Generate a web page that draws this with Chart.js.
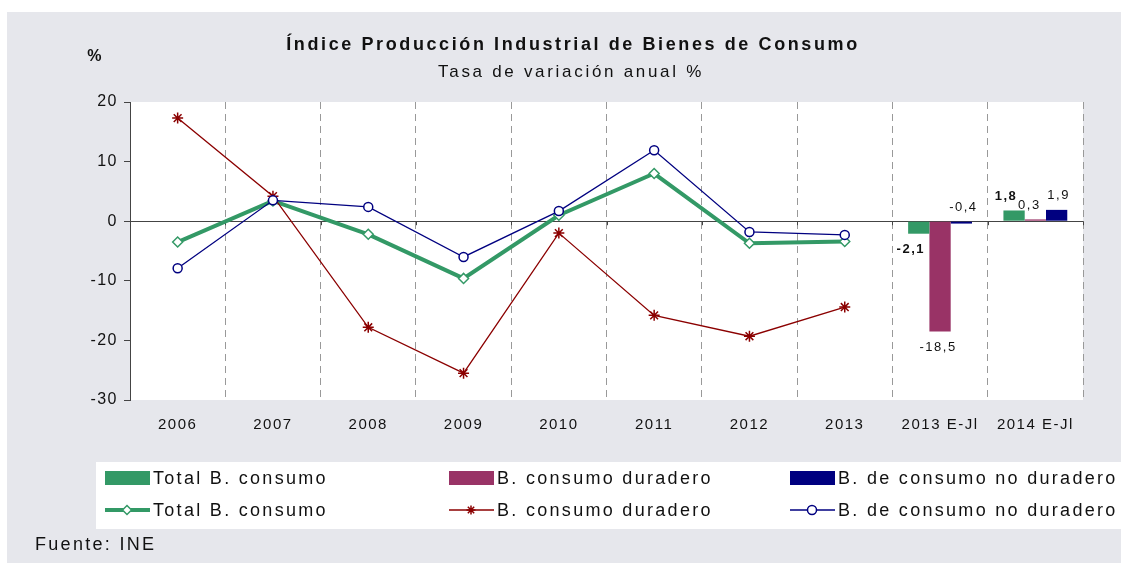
<!DOCTYPE html>
<html>
<head>
<meta charset="utf-8">
<script src="https://cdn.jsdelivr.net/npm/chart.js@4.4.1/dist/chart.umd.min.js"></script>
<style>
  body { margin: 0; background: #fff; }
  #wrap { width: 1121px; height: 563px; }
</style>
</head>
<body>
<div id="wrap"><canvas id="myChart"></canvas></div>
<script>
// categories
const labels = ['2006', '2007', '2008', '2009', '2010', '2011', '2012', '2013', '2013 E-Jl', '2014 E-Jl'];

// annual series (lines)
const totalLine = [-3.5, 3.4, -2.2, -9.6, 1.0, 8.0, -3.7, -3.4, null, null];
const durLine = [17.3, 4.2, -17.8, -25.5, -2.0, -15.8, -19.3, -14.4, null, null];
const noDurLine = [-7.9, 3.5, 2.4, -6.0, 1.7, 11.9, -1.8, -2.3, null, null];

// January-July (bars)
const totalBar = [null, null, null, null, null, null, null, null, -2.1, 1.8];
const durBar = [null, null, null, null, null, null, null, null, -18.5, 0.3];
const noDurBar = [null, null, null, null, null, null, null, null, -0.4, 1.9];

const yTicks = [20, 10, 0, -10, -20, -30];

const GREEN = '#339966', PURPLE = '#993366', NAVY = '#000080', DARKRED = '#8B0000';
const BG = '#e6e7ec';
const FONT = '"Liberation Sans", Arial, sans-serif';

const spacing = {
  id: 'spacing',
  beforeUpdate(chart) { chart.ctx.letterSpacing = '1.5px'; },
  beforeDraw(chart) {
    const ctx = chart.ctx, a = chart.chartArea;
    ctx.letterSpacing = '1.5px';
    ctx.save();
    ctx.fillStyle = BG;
    ctx.fillRect(7, 12, chart.width - 7, chart.height - 12);
    ctx.fillStyle = '#fff';
    ctx.fillRect(a.left, a.top, a.right - a.left, a.bottom - a.top);
    ctx.fillRect(96, 462, chart.width - 96, 67);
    ctx.restore();
  }
};

const decor = {
  id: 'decor',
  beforeDatasetsDraw(chart) {
    // small ticks on the zero line at category boundaries
    const ctx = chart.ctx, x = chart.scales.x, y0 = chart.scales.y.getPixelForValue(0);
    const half = (x.getPixelForValue(1) - x.getPixelForValue(0)) / 2;
    ctx.save();
    ctx.strokeStyle = '#444';
    ctx.lineWidth = 1;
    ctx.beginPath();
    for (let i = 0; i <= labels.length; i++) {
      const px = Math.round(x.getPixelForValue(i) - half) + 0.5;
      ctx.moveTo(px, y0); ctx.lineTo(px, y0 + 4);
    }
    ctx.stroke();
    ctx.restore();
  },
  afterDatasetsDraw(chart) {
    const ctx = chart.ctx;
    ctx.save();
    ctx.fillStyle = '#111';
    ctx.textAlign = 'center';
    ctx.textBaseline = 'middle';
    ctx.letterSpacing = '2.6px';
    ctx.font = 'bold 18px ' + FONT;
    ctx.fillText('Índice Producción Industrial de Bienes de Consumo', 573, 45);
    ctx.letterSpacing = '2.7px';
    ctx.font = '17px ' + FONT;
    ctx.fillText('Tasa de variación anual %', 571, 72);
    ctx.letterSpacing = '1.5px';
    ctx.font = 'bold 16px ' + FONT;
    ctx.fillText('%', 95, 57);

    // bar value labels
    const xOff = [-8, -2, 2];
    [0, 1, 2].forEach(i => {
      const meta = chart.getDatasetMeta(i);
      const vals = chart.data.datasets[i].data;
      meta.data.forEach((el, j) => {
        const v = vals[j];
        if (v === null) return;
        const txt = v.toFixed(1).replace('.', ',');
        ctx.font = (i === 0 ? 'bold ' : '') + '13px ' + FONT;
        const top = Math.min(el.y, el.base), bot = Math.max(el.y, el.base);
        const y = v >= -1 ? top - 14 : bot + 16;
        ctx.fillText(txt, el.x + xOff[i] - (v > 0 && i === 1 ? 4 : 0), y);
      });
    });

    // legend
    const cols = [105, 449, 790];
    const names = ['Total B. consumo', 'B. consumo duradero', 'B. de consumo no duradero'];
    const colors = [GREEN, PURPLE, NAVY];
    const lineColors = [GREEN, DARKRED, NAVY];
    const styles = ['rectRot', 'star', 'circle'];
    const widths = [4, 1.5, 1.5];
    ctx.textAlign = 'left';
    ctx.letterSpacing = '2.3px';
    ctx.font = '18px ' + FONT;
    cols.forEach((x, k) => {
      ctx.fillStyle = colors[k];
      ctx.fillRect(x, 471, 45, 14);
      ctx.fillStyle = '#111';
      ctx.fillText(names[k], x + 48, 479);
      ctx.strokeStyle = lineColors[k];
      ctx.lineWidth = widths[k];
      ctx.beginPath();
      ctx.moveTo(x, 510); ctx.lineTo(x + 45, 510);
      ctx.stroke();
      ctx.fillStyle = '#fff';
      ctx.lineWidth = 1.5;
      Chart.helpers.drawPoint(ctx, { pointStyle: styles[k], radius: 4.5, borderWidth: 1.5 }, x + 22, 510);
      ctx.fillStyle = '#111';
      ctx.fillText(names[k], x + 48, 511);
    });
    ctx.fillText('Fuente: INE', 35, 545);
    ctx.restore();
  }
};

new Chart(document.getElementById('myChart'), {
  data: {
    labels: labels,
    datasets: [
      { type: 'bar', label: 'Total B. consumo', data: totalBar, backgroundColor: GREEN, order: 4 },
      { type: 'bar', label: 'B. consumo duradero', data: durBar, backgroundColor: PURPLE, order: 5 },
      { type: 'bar', label: 'B. de consumo no duradero', data: noDurBar, backgroundColor: NAVY, order: 6 },
      { type: 'line', label: 'Total B. consumo', data: totalLine, borderColor: GREEN, borderWidth: 4,
        pointStyle: 'rectRot', pointRadius: 5, pointBackgroundColor: '#fff', pointBorderColor: GREEN, pointBorderWidth: 1.5, order: 3 },
      { type: 'line', label: 'B. consumo duradero', data: durLine, borderColor: DARKRED, borderWidth: 1.3,
        pointStyle: 'star', pointRadius: 5.5, pointBorderColor: DARKRED, pointBorderWidth: 1.5, order: 2 },
      { type: 'line', label: 'B. de consumo no duradero', data: noDurLine, borderColor: NAVY, borderWidth: 1.3,
        pointStyle: 'circle', pointRadius: 4.5, pointBackgroundColor: '#fff', pointBorderColor: NAVY, pointBorderWidth: 1.5, order: 1 }
    ]
  },
  options: {
    responsive: true,
    maintainAspectRatio: false,
    animation: false,
    categoryPercentage: 0.67,
    barPercentage: 1,
    layout: { padding: { left: 88, right: 38, top: 102, bottom: 133 } },
    plugins: { legend: { display: false }, tooltip: { enabled: false } },
    scales: {
      x: {
        grid: {
          offset: true,
          drawTicks: false,
          color: c => (c.index === 0 || c.index === labels.length) ? 'rgba(0,0,0,0)' : '#999'
        },
        border: { display: false, dash: [7, 5] },
        ticks: { color: '#111', padding: 16, font: { family: FONT, size: 15 }, maxRotation: 0 },
        afterFit: s => { s.height = 30; }
      },
      y: {
        min: -30,
        max: 20,
        afterBuildTicks: s => { s.ticks = yTicks.map(v => ({ value: v })); },
        grid: {
          color: c => c.tick && c.tick.value === 0 ? '#444' : 'rgba(0,0,0,0)',
          tickColor: '#444',
          tickLength: 6
        },
        border: { display: true, color: '#444' },
        ticks: { color: '#111', padding: 6, font: { family: FONT, size: 16 } },
        afterFit: s => { s.width = 42; }
      }
    }
  },
  plugins: [spacing, decor]
});
</script>
</body>
</html>
